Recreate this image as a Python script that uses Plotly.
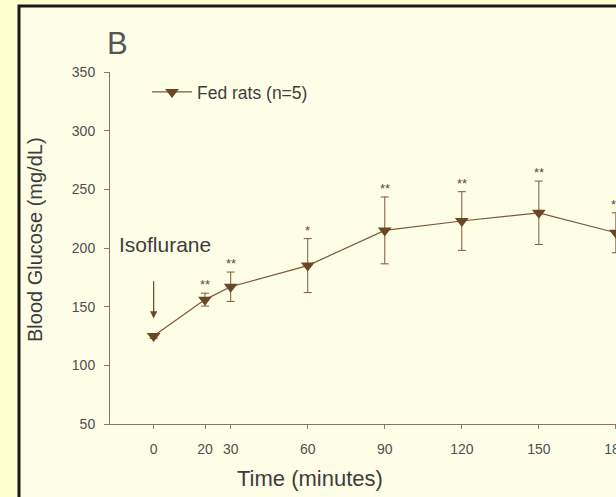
import plotly.graph_objects as go

# ---- data ----
time_min = [0, 20, 30, 60, 90, 120, 150, 180]
glucose = [125, 156, 167, 185, 215, 223, 230, 213]
glucose_err = [2, 5.5, 12.5, 23, 28.5, 25, 27, 17]
signif = ["", "**", "**", "*", "**", "**", "**", "**"]
x_ticks = [0, 20, 30, 60, 90, 120, 150, 180]
y_ticks = [50, 100, 150, 200, 250, 300, 350]
arrow_time = 0
arrow_from, arrow_to = 173, 140
series_name = "Fed rats (n=5)"

W, H = 616, 497
# plot area in pixels: x 110..616, y 72..424
ML, MR, MT, MB = 110, 0, 72, H - 424
PW, PH = W - ML - MR, H - MT - MB


def px(xp):
    return (xp - ML) / PW


def py(yp):
    return (H - MB - yp) / PH


BROWN = "#6b4726"
LINE = "#7a5a3a"
TXT = "#505050"
DARK = "#3d3d3d"
FONT = "Liberation Sans, Arial, sans-serif"

fig = go.Figure()
fig.add_trace(go.Scatter(
    x=time_min, y=glucose, name=series_name, mode="lines+markers",
    line=dict(color=LINE, width=1.2),
    marker=dict(symbol="triangle-down", size=12, color=BROWN),
    error_y=dict(type="data", array=glucose_err, visible=True,
                 color=LINE, thickness=1, width=4),
    cliponaxis=False,
))

annotations = []
for t, g, e, s in zip(time_min, glucose, glucose_err, signif):
    if s:
        annotations.append(dict(x=t, y=g + e, xref="x", yref="y", text=s,
                                showarrow=False, yanchor="bottom", yshift=-1,
                                font=dict(size=13, color="#5a4c3e", family=FONT)))

annotations.append(dict(x=arrow_time, y=arrow_to, ax=arrow_time, ay=arrow_from,
                        xref="x", yref="y", axref="x", ayref="y", text="",
                        showarrow=True, arrowhead=2, arrowsize=1.2, arrowwidth=1.2,
                        arrowcolor=BROWN))
annotations += [
    dict(x=px(117), y=py(244), xref="paper", yref="paper", text="Isoflurane",
         showarrow=False, xanchor="left", yanchor="middle",
         font=dict(size=21, color=DARK, family=FONT)),
    dict(x=px(117), y=py(44), xref="paper", yref="paper", text="B",
         showarrow=False, xanchor="center", yanchor="middle",
         font=dict(size=31, color="#555555", family=FONT)),
    dict(x=px(35), y=py(240), xref="paper", yref="paper",
         text="Blood Glucose (mg/dL)", textangle=-90, showarrow=False,
         xanchor="center", yanchor="middle",
         font=dict(size=20, color=DARK, family=FONT)),
    dict(x=px(310), y=py(478), xref="paper", yref="paper",
         text="Time (minutes)", showarrow=False,
         xanchor="center", yanchor="middle",
         font=dict(size=22, color=DARK, family=FONT)),
]

shapes = [dict(type="rect", xref="paper", yref="paper",
               x0=px(19), x1=px(W + 20), y0=py(6), y1=py(H + 20),
               fillcolor="#fefde6", line=dict(color="#1a1a1a", width=3),
               layer="below")]

fig.update_layout(
    width=W, height=H,
    margin=dict(l=ML, r=MR, t=MT, b=MB, pad=0, autoexpand=False),
    paper_bgcolor="#ffffcc", plot_bgcolor="rgba(0,0,0,0)",
    font=dict(family=FONT, color=TXT, size=12),
    showlegend=True,
    legend=dict(x=px(147), y=py(74), xanchor="left", yanchor="top",
                itemwidth=40,
                bgcolor="rgba(0,0,0,0)", font=dict(size=17.5, color=DARK)),
    annotations=annotations, shapes=shapes,
    xaxis=dict(range=[-17, 180.05], tickvals=x_ticks, ticks="outside", ticklen=4,
               tickcolor="#8a7a66", showline=True, linecolor="#8a7355", linewidth=1,
               showgrid=False, zeroline=False, tickfont=dict(size=14, color=TXT),
               ticklabelstandoff=8, ticklabeloverflow="allow", automargin=False),
    yaxis=dict(range=[50, 350], tickvals=y_ticks, ticks="outside", ticklen=5,
               tickcolor="#8a7a66", showline=True, linecolor="#8a7355", linewidth=1,
               showgrid=False, zeroline=False, tickfont=dict(size=14, color=TXT),
               ticklabelstandoff=6, automargin=False),
)

fig.write_html("out.html", config={"displayModeBar": False},
               post_script="document.body.style.margin='0';"
                           "document.body.style.background='#ffffcc';")
